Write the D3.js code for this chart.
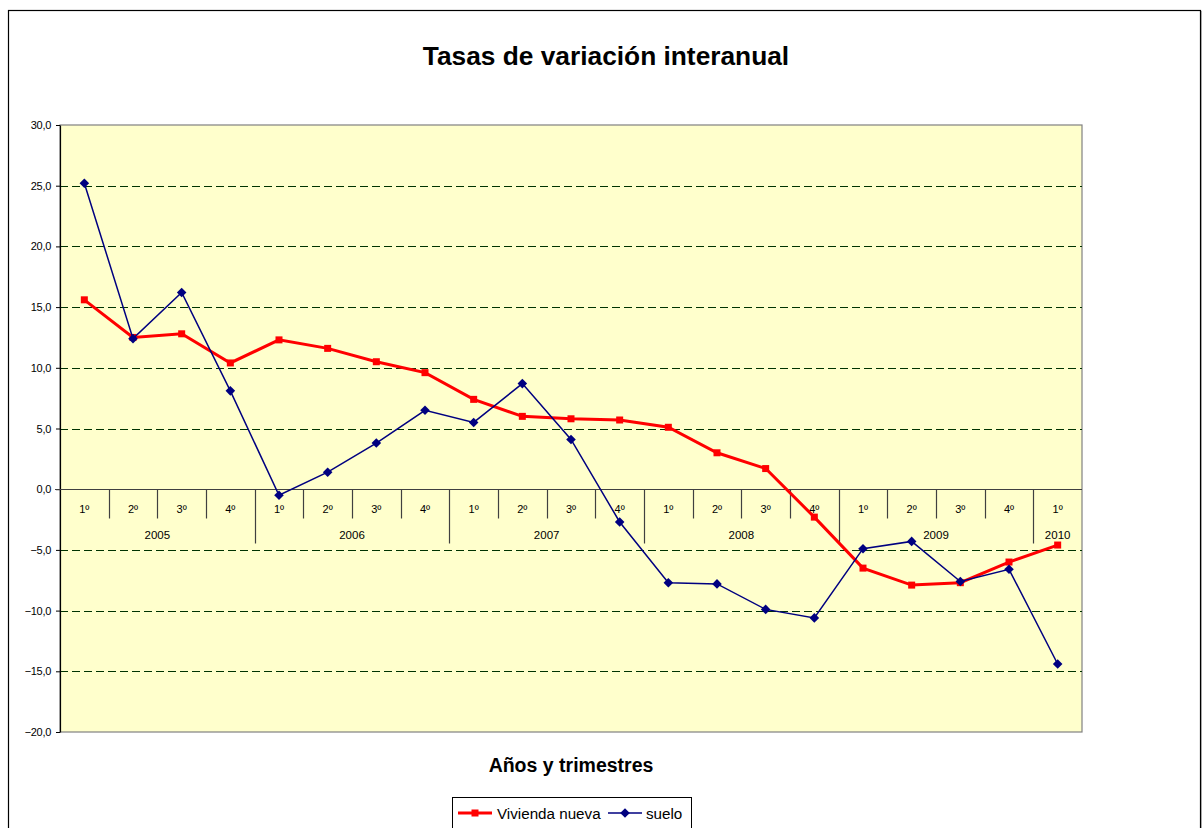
<!DOCTYPE html>
<html><head><meta charset="utf-8">
<script src="https://cdn.jsdelivr.net/npm/d3@7"></script>
<style>body{margin:0;background:#fff;} svg{display:block;} text{font-family:"Liberation Sans",Arial,sans-serif;fill:#000;}</style>
</head><body><svg id="c" width="1204" height="828"></svg>
<script>
const quarters = ["1º","2º","3º","4º","1º","2º","3º","4º","1º","2º","3º","4º","1º","2º","3º","4º","1º","2º","3º","4º","1º"];
const years = ["2005","2006","2007","2008","2009","2010"];
const yearSpans = [4,4,4,4,4,1];
const vivienda = [15.6,12.5,12.8,10.4,12.3,11.6,10.5,9.6,7.4,6.0,5.8,5.7,5.1,3.0,1.7,-2.3,-6.5,-7.9,-7.7,-6.0,-4.6];
const suelo = [25.2,12.4,16.2,8.1,-0.5,1.4,3.8,6.5,5.5,8.7,4.1,-2.7,-7.7,-7.8,-9.9,-10.6,-4.9,-4.3,-7.6,-6.6,-14.4];
const yTicks = [-20,-15,-10,-5,0,5,10,15,20,25,30];
const seriesNames = ["Vivienda nueva","suelo"];

const svg = d3.select("#c");
const L=60,R=1082,T=125,B=732;
const x = d3.scaleBand().domain(d3.range(quarters.length)).range([L,R]);
const bw = x.bandwidth();
const cx = i => x(i)+bw/2;
const y = d3.scaleLinear().domain([-20,30]).range([B,T]);
const fmt = d => d3.format(".1f")(d).replace(".",",");

// outer border
svg.append("rect").attr("x",9.5).attr("y",11.5).attr("width",1192).attr("height",840)
  .attr("fill","none").attr("stroke","#bbb").attr("stroke-width",1);
svg.append("rect").attr("x",8.5).attr("y",10.5).attr("width",1192).attr("height",840)
  .attr("fill","#fff").attr("stroke","#000").attr("stroke-width",1.2);

// title
svg.append("text").attr("x",606).attr("y",65).attr("text-anchor","middle")
  .attr("font-size",26.3).attr("font-weight","bold").text("Tasas de variación interanual");

// plot area
svg.append("rect").attr("x",L).attr("y",T).attr("width",R-L).attr("height",B-T)
  .attr("fill","#FFFFCC").attr("stroke","#808080").attr("stroke-width",1.2);

// gridlines
svg.append("g").selectAll("line").data(yTicks.filter(d=>d!==-20&&d!==30&&d!==0)).join("line")
  .attr("x1",L).attr("x2",R).attr("y1",d=>Math.round(y(d))+0.5).attr("y2",d=>Math.round(y(d))+0.5)
  .attr("stroke","#003300").attr("stroke-width",1).attr("stroke-dasharray","8,4");

// y axis
const ya = svg.append("g").attr("transform",`translate(${L},0)`)
  .call(d3.axisLeft(y).tickValues(yTicks).tickSize(4).tickSizeOuter(0).tickPadding(5).tickFormat(fmt));
ya.select(".domain").attr("stroke","#000").attr("stroke-width",1.2);
ya.selectAll(".tick line").attr("stroke","#000");
ya.selectAll(".tick text").attr("font-size",11).attr("font-family","'Liberation Sans',Arial,sans-serif").attr("letter-spacing","-0.3");

// zero category axis
const y0 = Math.round(y(0))+0.5;
svg.append("line").attr("x1",55).attr("x2",R).attr("y1",y0).attr("y2",y0)
  .attr("stroke","#404040").attr("stroke-width",1.2);
svg.append("g").selectAll("line").data(d3.range(1,quarters.length)).join("line")
  .attr("x1",i=>Math.round(x(i))+0.5).attr("x2",i=>Math.round(x(i))+0.5)
  .attr("y1",y0).attr("y2",i=>y0+(i%4===0?54:29))
  .attr("stroke","#404040").attr("stroke-width",1.2);
svg.append("g").selectAll("text").data(quarters).join("text")
  .attr("x",(d,i)=>cx(i)).attr("y",y0+23).attr("text-anchor","middle").attr("font-size",11).text(d=>d);
let start=0;
const yearPos = yearSpans.map(s=>{const p={s:start,e:start+s};start+=s;return p;});
svg.append("g").selectAll("text").data(years).join("text")
  .attr("x",(d,i)=>(x(yearPos[i].s)+x(yearPos[i].e-1)+bw)/2).attr("y",y0+49)
  .attr("text-anchor","middle").attr("font-size",11.5).text(d=>d);

// axis title
svg.append("text").attr("x",(L+R)/2).attr("y",772).attr("text-anchor","middle")
  .attr("font-size",19.5).attr("font-weight","bold").text("Años y trimestres");

// series
const line = d3.line().x((d,i)=>cx(i)).y(d=>y(d));
svg.append("path").datum(vivienda).attr("d",line).attr("fill","none").attr("stroke","#FF0000").attr("stroke-width",3);
svg.append("g").selectAll("rect").data(vivienda).join("rect")
  .attr("x",(d,i)=>cx(i)-3.5).attr("y",d=>y(d)-3.5).attr("width",7).attr("height",7).attr("fill","#FF0000");
svg.append("path").datum(suelo).attr("d",line).attr("fill","none").attr("stroke","#000080").attr("stroke-width",1.5);
const diamond = d3.symbol(d3.symbolSquare,46);
svg.append("g").selectAll("path").data(suelo).join("path")
  .attr("d",diamond).attr("transform",(d,i)=>`translate(${cx(i)},${y(d)}) rotate(45)`).attr("fill","#000080");

// legend
const lg = svg.append("g");
lg.append("rect").attr("x",452.5).attr("y",797.5).attr("width",239).attr("height",40).attr("fill","#fff").attr("stroke","#000").attr("stroke-width",1);
lg.append("line").attr("x1",458).attr("x2",492).attr("y1",813).attr("y2",813).attr("stroke","#FF0000").attr("stroke-width",3);
lg.append("rect").attr("x",471.5).attr("y",809.5).attr("width",7).attr("height",7).attr("fill","#FF0000");
lg.append("text").attr("x",497).attr("y",818.5).attr("font-size",15.2).text(seriesNames[0]);
lg.append("line").attr("x1",608).attr("x2",642).attr("y1",813).attr("y2",813).attr("stroke","#000080").attr("stroke-width",1.5);
lg.append("path").attr("d",diamond).attr("transform","translate(625,813) rotate(45)").attr("fill","#000080");
lg.append("text").attr("x",646).attr("y",818.5).attr("font-size",15.2).text(seriesNames[1]);
</script></body></html>
